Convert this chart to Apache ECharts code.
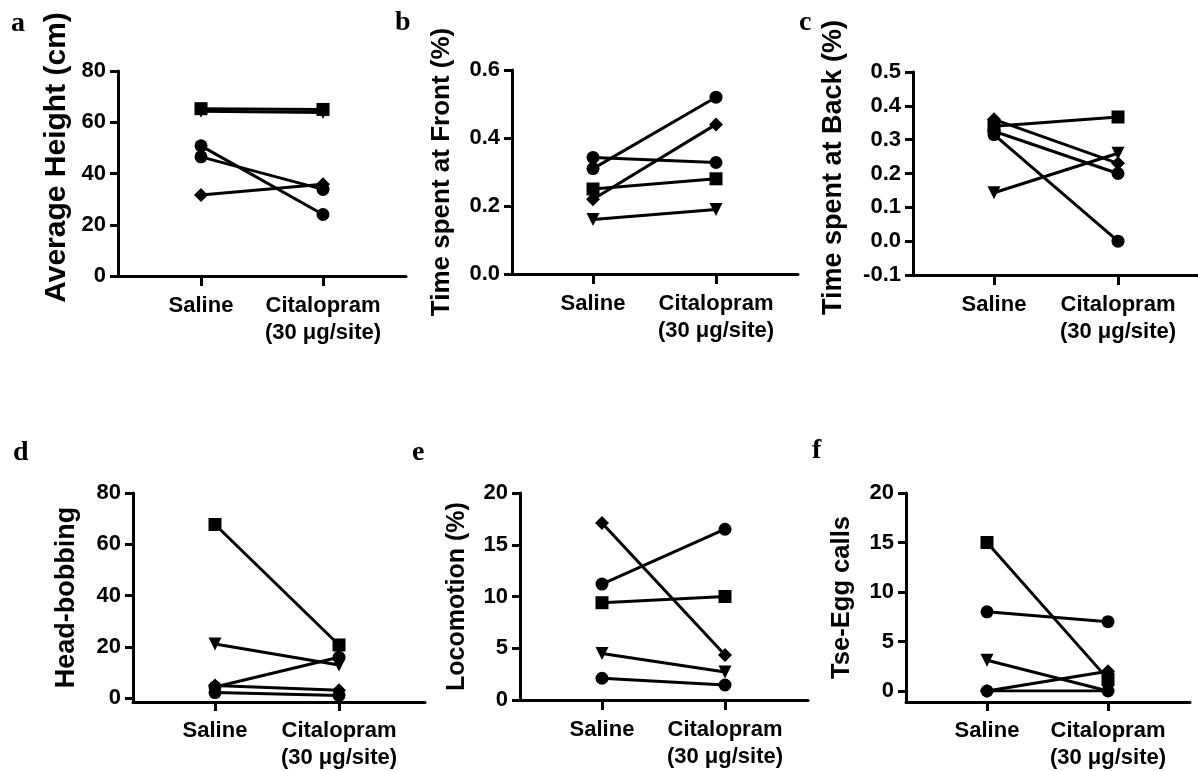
<!DOCTYPE html>
<html>
<head>
<meta charset="utf-8">
<script src="https://cdn.jsdelivr.net/npm/echarts@6/dist/echarts.min.js"></script>
<style>
  html, body { margin: 0; padding: 0; background: #fff; }
  #main { width: 1198px; height: 771px; }
</style>
</head>
<body>
<div id="main"></div>
<script>
// subjects: circle, square, triangle-down, diamond, circle
var symbols = ['circle', 'rect', 'triangle', 'diamond', 'circle'];
var symbolRotates = [0, 0, 180, 0, 0];
var groups = ['Saline', 'Citalopram\n(30 μg/site)'];

// a
var heightSaline = [50.8, 65.3, 64.3, 31.6, 46.5];
var heightCitalopram = [24.0, 65.0, 63.8, 35.8, 33.8];
// b
var frontSaline = [0.31, 0.25, 0.16, 0.22, 0.343];
var frontCitalopram = [0.52, 0.28, 0.19, 0.44, 0.328];
// c
var backSaline = [0.315, 0.34, 0.143, 0.36, 0.325];
var backCitalopram = [0.0, 0.367, 0.26, 0.23, 0.20];
// d
var bobSaline = [4.3, 67.7, 21.1, 4.9, 2.1];
var bobCitalopram = [15.9, 20.7, 12.9, 3.0, 1.0];
// e
var locoSaline = [11.2, 9.4, 4.5, 17.1, 2.1];
var locoCitalopram = [16.5, 10.0, 2.7, 4.35, 1.45];
// f
var callsSaline = [8.0, 15.0, 3.1, 0, 0];
var callsCitalopram = [7.0, 1.2, 0, 2.0, 0];

// frame: where the axis lines go; plot: where the two groups sit (0 at plot bottom)
var panels = [
  { letter: 'a', lx: 11, ly: 10, name: 'Average Height (cm)', nameSize: 30, nameGap: 46, namePad: 32,
    frame: { left: 118, top: 71, width: 288, height: 205 },
    plot: { left: 140, top: 71, width: 244, height: 205 },
    min: 0, max: 80, interval: 20, sal: heightSaline, cit: heightCitalopram },
  { letter: 'b', lx: 395, ly: 9, name: 'Time spent at Front (%)', nameSize: 26, nameGap: 57, namePad: 0,
    frame: { left: 512, top: 70, width: 286, height: 204 },
    plot: { left: 531.5, top: 70, width: 246, height: 204 },
    min: 0, max: 0.6, interval: 0.2, sal: frontSaline, cit: frontCitalopram, dec: 1 },
  { letter: 'c', lx: 799, ly: 9, name: 'Time spent at Back (%)', nameSize: 27, nameGap: 66, namePad: 12,
    frame: { left: 913, top: 72, width: 285, height: 203 },
    plot: { left: 932, top: 72, width: 248, height: 203 },
    min: -0.1, max: 0.5, interval: 0.1, sal: backSaline, cit: backCitalopram, dec: 1 },
  { letter: 'd', lx: 13, ly: 439, name: 'Head-bobbing', nameSize: 27, nameGap: 53, namePad: 0,
    frame: { left: 133, top: 493, width: 292, height: 209 },
    plot: { left: 153, top: 493, width: 248, height: 206 },
    min: 0, max: 80, interval: 20, sal: bobSaline, cit: bobCitalopram },
  { letter: 'e', lx: 412, ly: 439, name: 'Locomotion (%)', nameSize: 25, nameGap: 50, namePad: 0,
    frame: { left: 520, top: 493, width: 288, height: 207 },
    plot: { left: 540.5, top: 493, width: 246, height: 207 },
    min: 0, max: 20, interval: 5, sal: locoSaline, cit: locoCitalopram },
  { letter: 'f', lx: 812, ly: 437, name: 'Tse-Egg calls', nameSize: 25.6, nameGap: 51, namePad: 0,
    frame: { left: 906, top: 493, width: 284, height: 209 },
    plot: { left: 926.5, top: 493, width: 242, height: 199 },
    min: 0, max: 20, interval: 5, sal: callsSaline, cit: callsCitalopram }
];

var font = 'Liberation Sans, Arial, sans-serif';
var black = '#000';

var option = {
  animation: false,
  backgroundColor: '#fff',
  title: [],
  grid: [],
  xAxis: [],
  yAxis: [],
  series: []
};

panels.forEach(function (p, i) {
  var fi = i * 2, pi = i * 2 + 1;
  option.title.push({
    text: p.letter, left: p.lx, top: p.ly, padding: 0,
    textStyle: { fontFamily: 'Liberation Serif, Times New Roman, serif', fontWeight: 'bold', fontSize: 28, color: black }
  });

  // frame grid: only the two axis lines
  option.grid.push(p.frame);
  option.xAxis.push({
    gridIndex: fi, type: 'value', min: 0, max: 1,
    axisLine: { show: true, onZero: false, lineStyle: { color: black, width: 3 } },
    axisTick: { show: false }, axisLabel: { show: false }, splitLine: { show: false }
  });
  option.yAxis.push({
    gridIndex: fi, type: 'value', min: 0, max: 1,
    axisLine: { show: true, onZero: false, lineStyle: { color: black, width: 3 } },
    axisTick: { show: false }, axisLabel: { show: false }, splitLine: { show: false },
    name: p.name, nameLocation: 'middle', nameGap: p.nameGap,
    nameTextStyle: { fontFamily: font, fontWeight: 'bold', fontSize: p.nameSize, color: black,
      padding: [0, 0, 0, p.namePad] }
  });

  // plot grid: data, ticks and tick labels
  option.grid.push(p.plot);
  option.xAxis.push({
    gridIndex: pi, type: 'category', data: groups, boundaryGap: true,
    offset: (p.frame.top + p.frame.height) - (p.plot.top + p.plot.height),
    axisLine: { show: false, onZero: false },
    axisTick: { show: true, interval: 0, alignWithLabel: true, length: 10, lineStyle: { color: black, width: 3 } },
    axisLabel: { interval: 0, hideOverlap: false, margin: 16, color: black, fontFamily: font,
      fontWeight: 'bold', fontSize: 22, lineHeight: 27 },
    splitLine: { show: false }
  });
  option.yAxis.push({
    gridIndex: pi, type: 'value', min: p.min, max: p.max, interval: p.interval,
    offset: p.plot.left - p.frame.left,
    axisLine: { show: false, onZero: false },
    axisTick: { show: true, length: 8, lineStyle: { color: black, width: 3 } },
    axisLabel: { margin: 12, color: black, fontFamily: font, fontWeight: 'bold', fontSize: 22,
      formatter: function (v) { return p.dec ? v.toFixed(p.dec) : String(v); } },
    splitLine: { show: false }
  });

  for (var k = 0; k < 5; k++) {
    option.series.push({
      type: 'line', xAxisIndex: pi, yAxisIndex: pi,
      data: [p.sal[k], p.cit[k]],
      symbol: symbols[k], symbolRotate: symbolRotates[k],
      symbolSize: symbols[k] === 'diamond' ? 14 : 13,
      itemStyle: { color: black },
      lineStyle: { color: black, width: 3 },
      silent: true
    });
  }
});

var chart = echarts.init(document.getElementById('main'));
chart.setOption(option);
</script>
</body>
</html>
